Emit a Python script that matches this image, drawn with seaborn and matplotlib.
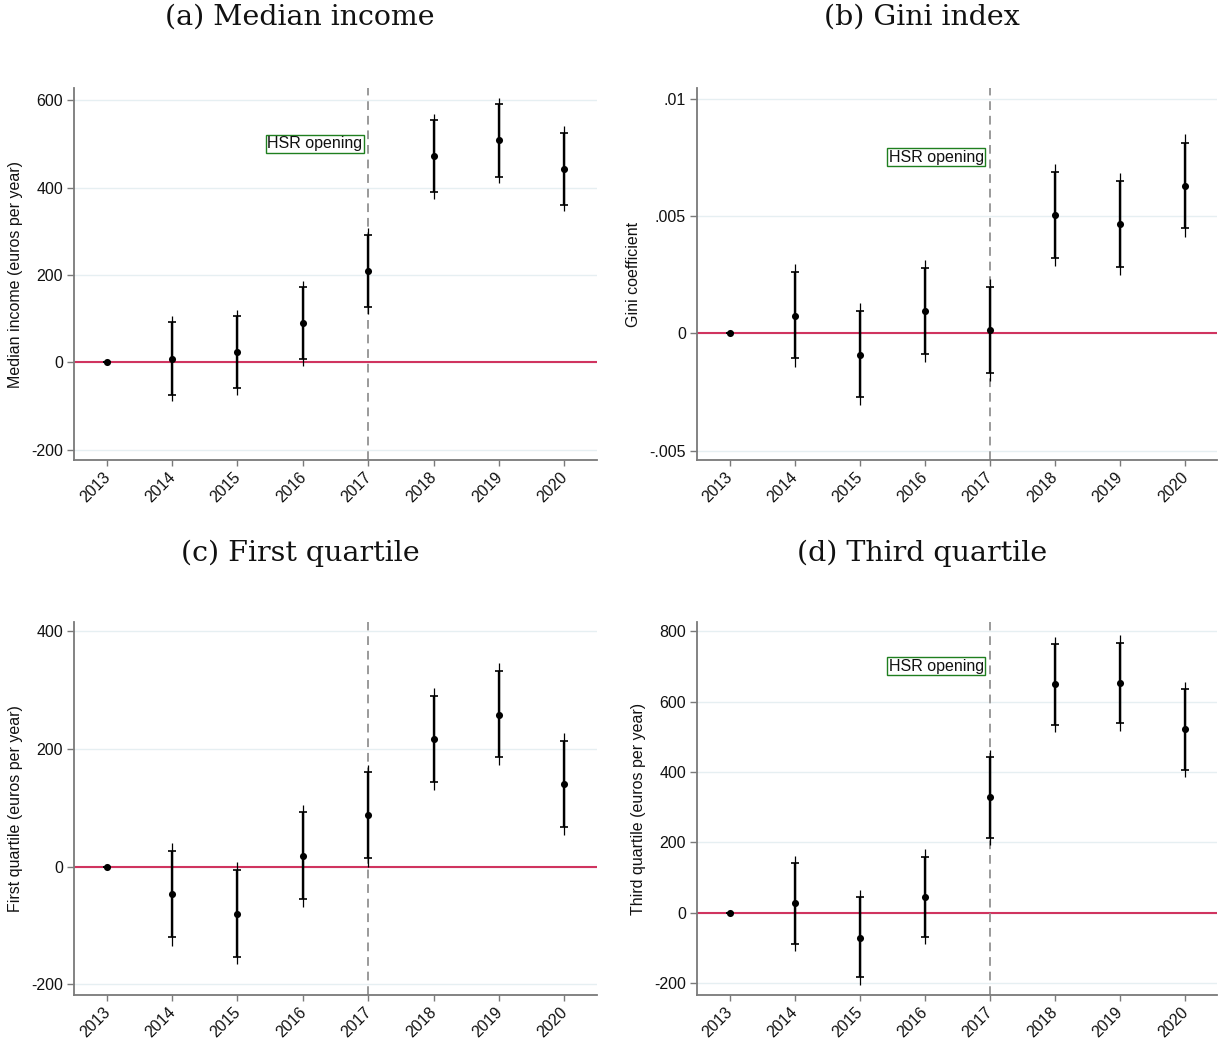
import numpy as np
import pandas as pd
import matplotlib
matplotlib.use("Agg")
import matplotlib.pyplot as plt
import seaborn as sns

years = ["2013", "2014", "2015", "2016", "2017", "2018", "2019", "2020"]

# (a) Median income
med_est = [0, 8, 24, 90, 208, 472, 508, 443]
med_lo90 = [0, -75, -59, 8, 126, 389, 425, 360]
med_hi90 = [0, 91, 106, 173, 292, 554, 591, 526]
med_lo95 = [0, -90, -74, -8, 111, 374, 410, 346]
med_hi95 = [0, 106, 120, 187, 307, 569, 605, 540]

# (b) Gini index
gini_est = [0, 0.00075, -0.00091, 0.00095, 0.00014, 0.00504, 0.00466, 0.00629]
gini_lo90 = [0, -0.00107, -0.00273, -0.00087, -0.00168, 0.00321, 0.00283, 0.00447]
gini_hi90 = [0, 0.00260, 0.00094, 0.00278, 0.00197, 0.00688, 0.00649, 0.00812]
gini_lo95 = [0, -0.00143, -0.00307, -0.00121, -0.00202, 0.00287, 0.00249, 0.00412]
gini_hi95 = [0, 0.00294, 0.00128, 0.00312, 0.00233, 0.00720, 0.00682, 0.00847]

# (c) First quartile
q1_est = [0, -47, -80, 18, 87, 216, 258, 140]
q1_lo90 = [0, -120, -153, -55, 14, 143, 186, 67]
q1_hi90 = [0, 27, -6, 92, 160, 290, 332, 213]
q1_lo95 = [0, -134, -166, -68, 0, 130, 172, 53]
q1_hi95 = [0, 40, 7, 105, 173, 303, 346, 226]

# (d) Third quartile
q3_est = [0, 28, -70, 46, 328, 649, 652, 521]
q3_lo90 = [0, -87, -183, -68, 213, 534, 538, 407]
q3_hi90 = [0, 142, 45, 160, 442, 763, 767, 635]
q3_lo95 = [0, -109, -204, -89, 192, 513, 517, 386]
q3_hi95 = [0, 163, 66, 181, 462, 784, 788, 656]

titles = ["(a) Median income", "(b) Gini index", "(c) First quartile", "(d) Third quartile"]
ylabels = ["Median income (euros per year)", "Gini coefficient",
           "First quartile (euros per year)", "Third quartile (euros per year)"]
yticks_list = [[-200, 0, 200, 400, 600], [-0.005, 0, 0.005, 0.01],
               [-200, 0, 200, 400], [-200, 0, 200, 400, 600, 800]]
yticklabels_list = [["-200", "0", "200", "400", "600"], ["-.005", "0", ".005", ".01"],
                    ["-200", "0", "200", "400"], ["-200", "0", "200", "400", "600", "800"]]
ylims = [(-224, 628), (-0.0054, 0.01045), (-218, 415), (-233, 826)]
label_y = [500, 0.0075, None, 700]
event_label = "HSR opening"
event_year = "2017"

series = [
    (med_est, med_lo90, med_hi90, med_lo95, med_hi95),
    (gini_est, gini_lo90, gini_hi90, gini_lo95, gini_hi95),
    (q1_est, q1_lo90, q1_hi90, q1_lo95, q1_hi95),
    (q3_est, q3_lo90, q3_hi90, q3_lo95, q3_hi95),
]

sns.set_theme(style="white")
plt.rcParams['font.family'] = ['Liberation Sans', 'DejaVu Sans']

fig = plt.figure(figsize=(12.18, 10.38), dpi=100)

W, H = 1218, 1038
boxes = [(74, 88, 597, 460), (697, 88, 1217, 460), (74, 622, 597, 995), (697, 622, 1217, 995)]
title_pos = [(300, 17), (922, 17), (300, 553), (922, 553)]

grid_col = "#e6eff2"
spine_col = "#7a7a7a"
zero_col = "#d0345f"

for i in range(4):
    x0, y0, x1, y1 = boxes[i]
    ax = fig.add_axes([x0 / W, 1 - y1 / H, (x1 - x0) / W, (y1 - y0) / H])
    est, lo90, hi90, lo95, hi95 = series[i]
    df = pd.DataFrame({"year": years, "est": est, "lo90": lo90, "hi90": hi90,
                       "lo95": lo95, "hi95": hi95})
    xpos = np.arange(len(years))
    for t in yticks_list[i]:
        ax.axhline(t, color=grid_col, lw=1.0, zorder=0)
    ax.axhline(0, color=zero_col, lw=1.5, zorder=1)
    ax.axvline(years.index(event_year), color="#9a9a9a", lw=1.4, ls=(0, (4.5, 3)), zorder=1)
    e = df["est"].to_numpy()
    # outer (thin) interval
    ax.errorbar(xpos, e, yerr=[e - df["lo95"].to_numpy(), df["hi95"].to_numpy() - e],
                fmt="none", ecolor="black", elinewidth=0.9, capsize=0, zorder=2)
    # inner (thick) interval with caps
    ax.errorbar(xpos, e, yerr=[e - df["lo90"].to_numpy(), df["hi90"].to_numpy() - e],
                fmt="none", ecolor="black", elinewidth=1.7, capsize=3.0, capthick=1.2, zorder=3)
    sns.scatterplot(data=df, x="year", y="est", ax=ax, color="black", s=26,
                    edgecolor="black", linewidth=0, zorder=4)
    ax.set_xlim(-0.5, len(years) - 0.5)
    ax.set_ylim(*ylims[i])
    ax.set_yticks(yticks_list[i])
    ax.set_yticklabels(yticklabels_list[i], fontsize=11.5, color="#111111")
    ax.set_xticks(xpos)
    ax.set_xticklabels(years, rotation=45, ha="right", va="center_baseline",
                       rotation_mode="anchor", fontsize=11.5, color="#111111")
    ax.set_xlabel("")
    ax.set_ylabel(ylabels[i], fontsize=11.5, color="#111111", labelpad=6)
    for s in ["top", "right"]:
        ax.spines[s].set_visible(False)
    for s in ["left", "bottom"]:
        ax.spines[s].set_color(spine_col)
        ax.spines[s].set_linewidth(1.3)
    ax.tick_params(axis="y", which="major", length=5, width=1.0, color=spine_col,
                   direction="out", left=True, pad=3)
    ax.tick_params(axis="x", which="major", length=4, width=1.0, color=spine_col,
                   direction="out", bottom=True, pad=6)
    if label_y[i] is not None:
        ax.text(years.index(event_year) - 0.09, label_y[i], event_label, ha="right", va="center",
                fontsize=11.5, color="#111111",
                bbox=dict(boxstyle="square,pad=0.1", facecolor="white", edgecolor="#1f7f1f", lw=1.0),
                zorder=5)
    tx, ty = title_pos[i]
    fig.text(tx / W, 1 - ty / H, titles[i], ha="center", va="center", fontsize=20.5,
             family=["DejaVu Serif"], color="#111111")

fig.savefig("out.png", dpi=100)
